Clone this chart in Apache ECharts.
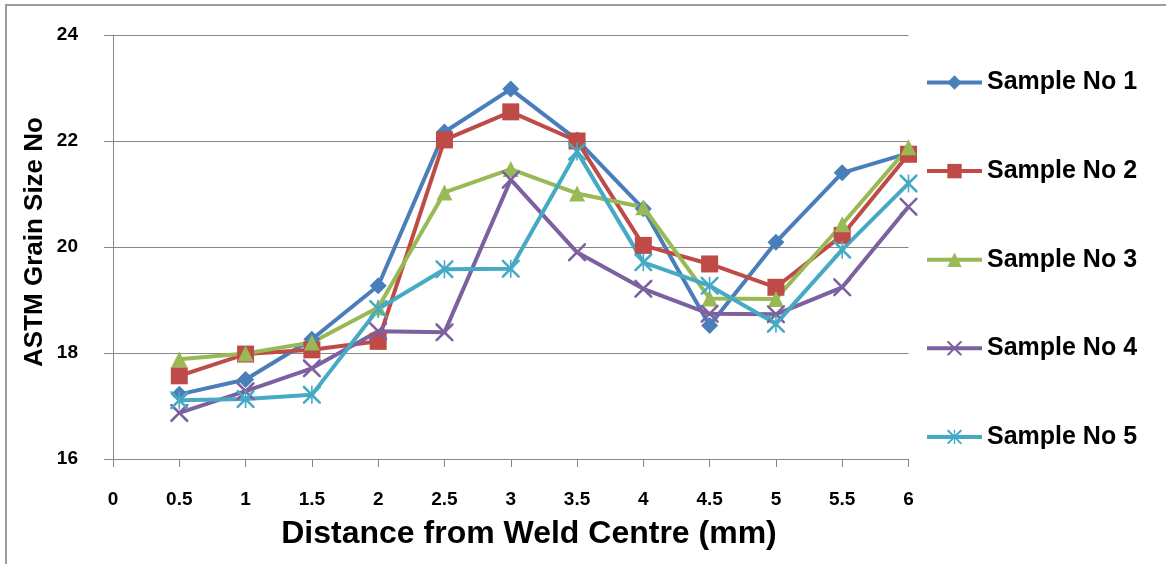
<!DOCTYPE html>
<html>
<head>
<meta charset="utf-8">
<script src="https://cdn.jsdelivr.net/npm/echarts@6/dist/echarts.min.js"></script>
<style>
html,body{margin:0;padding:0;background:#fff;}
#chart{width:1166px;height:564px;}
</style>
</head>
<body>
<div id="chart"></div>
<script>
const distances = [0.5, 1, 1.5, 2, 2.5, 3, 3.5, 4, 4.5, 5, 5.5, 6];
const seriesNames = ['Sample No 1', 'Sample No 2', 'Sample No 3', 'Sample No 4', 'Sample No 5'];
const sample1 = [17.22, 17.50, 18.26, 19.27, 22.17, 22.98, 22.02, 20.72, 18.52, 20.09, 21.40, 21.77];
const sample2 = [17.57, 17.98, 18.06, 18.22, 22.02, 22.55, 22.00, 20.03, 19.68, 19.24, 20.22, 21.75];
const sample3 = [17.88, 17.99, 18.20, 18.86, 21.03, 21.47, 21.01, 20.75, 19.03, 19.02, 20.43, 21.88];
const sample4 = [16.87, 17.28, 17.71, 18.41, 18.39, 21.27, 19.90, 19.21, 18.74, 18.73, 19.24, 20.76];
const sample5 = [17.11, 17.13, 17.21, 18.83, 19.58, 19.59, 21.80, 19.71, 19.27, 18.55, 19.95, 21.20];
const yTicks = { min: 16, max: 24, interval: 2 };
const xTicks = { min: 0, max: 6, interval: 0.5 };

const colors = ['#4A7EBB', '#BE4B48', '#98B954', '#7D60A0', '#46AAC5'];
const xPath = 'path://M0,0 L1,0 L5,4 L9,0 L10,0 L10,1 L6,5 L10,9 L10,10 L9,10 L5,6 L1,10 L0,10 L0,9 L4,5 L0,1 Z';
const starPath = 'path://M0,0 L1,0 L5,4 L9,0 L10,0 L10,1 L6,5 L10,9 L10,10 L9,10 L5,6 L1,10 L0,10 L0,9 L4,5 L0,1 Z M4.55,0 L5.45,0 L5.45,10 L4.55,10 Z';
const symbols = ['diamond', 'rect', 'triangle', xPath, starPath];
const symbolSizes = [17, 17, 16, 18, 18];
const allData = [sample1, sample2, sample3, sample4, sample5];

const chart = echarts.init(document.getElementById('chart'));
const font = '"Liberation Sans", Arial, sans-serif';
const axisGray = '#868686';

chart.setOption({
  animation: false,
  backgroundColor: '#fff',
  grid: { left: 113, right: 257.5, top: 35, bottom: 105, containLabel: false },
  xAxis: {
    type: 'value', min: xTicks.min, max: xTicks.max, interval: xTicks.interval,
    axisLine: { show: true, lineStyle: { color: axisGray, width: 1 } },
    axisTick: { show: true, length: 8, lineStyle: { color: axisGray } },
    splitLine: { show: false },
    axisLabel: { color: '#000', fontFamily: font, fontWeight: 'bold', fontSize: 19, margin: 31 }
  },
  yAxis: {
    type: 'value', min: yTicks.min, max: yTicks.max, interval: yTicks.interval,
    axisLine: { show: true, lineStyle: { color: axisGray, width: 1 } },
    axisTick: { show: true, length: 9, lineStyle: { color: axisGray } },
    splitLine: { show: true, lineStyle: { color: axisGray, width: 1 } },
    axisLabel: { color: '#000', fontFamily: font, fontWeight: 'bold', fontSize: 19, margin: 35 }
  },
  legend: {
    orient: 'vertical', left: 920, top: 65,
    itemWidth: 55, itemHeight: 18, itemGap: 63.6,
    lineStyle: { width: 4 },
    textStyle: { color: '#000', fontFamily: font, fontWeight: 'bold', fontSize: 25, lineHeight: 25 },
    data: seriesNames
  },
  graphic: [
    { type: 'polyline', shape: { points: [[6, 564], [6, 5], [1166, 5]] }, style: { stroke: '#9c9c9c', lineWidth: 2, fill: null } },
    { type: 'text', x: 529, y: 534, style: { text: 'Distance from Weld Centre (mm)', fontFamily: font, fontWeight: 'bold', fontSize: 32, fill: '#000', textAlign: 'center', textVerticalAlign: 'middle' } },
    { type: 'text', x: 35, y: 242, rotation: Math.PI / 2, style: { text: 'ASTM Grain Size No', fontFamily: font, fontWeight: 'bold', fontSize: 26, fill: '#000', textAlign: 'center', textVerticalAlign: 'middle' } }
  ],
  series: allData.map((vals, i) => ({
    name: seriesNames[i],
    type: 'line',
    data: distances.map((d, j) => [d, vals[j]]),
    symbol: symbols[i],
    symbolSize: symbolSizes[i],
    showAllSymbol: true,
    lineStyle: { color: colors[i], width: 4 },
    itemStyle: { color: colors[i], borderWidth: 0 },
    emphasis: { disabled: true }
  }))
});
</script>
</body>
</html>
